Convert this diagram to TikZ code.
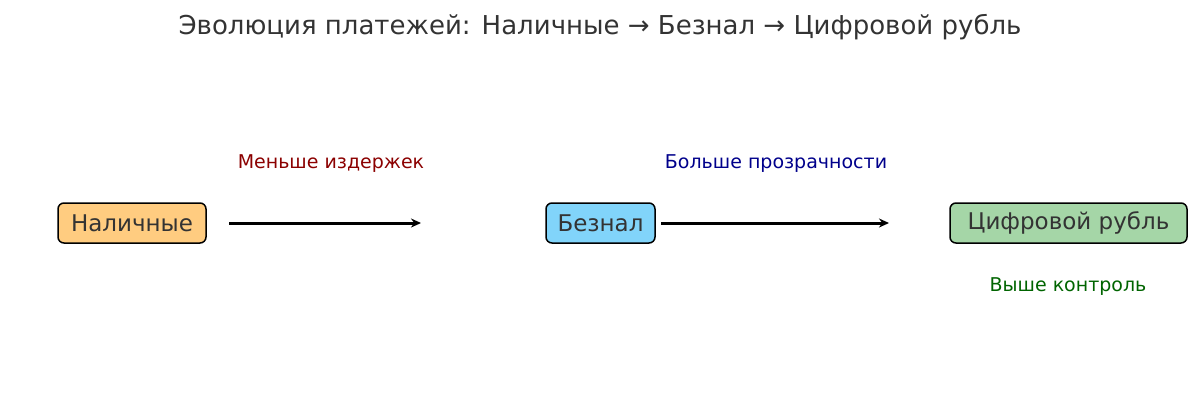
\documentclass[tikz,border=0pt]{standalone}
\usepackage{fontspec}
\setmainfont{DejaVu Sans}
\usetikzlibrary{arrows.meta}
\definecolor{txt}{HTML}{333333}
\definecolor{cOr}{HTML}{FFCC80}
\definecolor{cBl}{HTML}{81D4FA}
\definecolor{cGr}{HTML}{A5D6A7}
\tikzset{box/.style={draw=black,line width=1.5pt,rounded corners=6pt,text=txt,font=\fontsize{23}{26}\selectfont,inner sep=0pt,minimum height=40pt},
lab/.style={font=\fontsize{19}{22}\selectfont},
arr/.style={line width=3pt,-{Stealth[length=10pt,width=9pt]}}}
\begin{document}
\begin{tikzpicture}[x=1pt,y=-1pt]
\useasboundingbox (0,0) rectangle (1200,413);
\node[font=\fontsize{26}{30}\selectfont,text=txt] (title) at (600,27) {Эволюция платежей: Наличные → Безнал → Цифровой рубль};
\node[box,fill=cOr,minimum width=148pt] (a) at (132,223) {Наличные};
\node[box,fill=cBl,minimum width=109pt] (b) at (600.5,223) {Безнал};
\node[box,fill=cGr,minimum width=237pt] (c) at (1068.5,223) {Цифровой рубль};
\coordinate (a1) at (229,223); \coordinate (a2) at (421,223);
\coordinate (b1) at (661,223); \coordinate (b2) at (889,223);
\draw[arr] (a1) -- (a2);
\draw[arr] (b1) -- (b2);
\node[lab,text={rgb,255:red,139;green,0;blue,0}] (l1) at (331,164) {Меньше издержек};
\node[lab,text={rgb,255:red,0;green,0;blue,139}] (l2) at (776,164) {Больше прозрачности};
\node[lab,text={rgb,255:red,0;green,100;blue,0}] (l3) at (1068,287) {Выше контроль};
\end{tikzpicture}
\end{document}
